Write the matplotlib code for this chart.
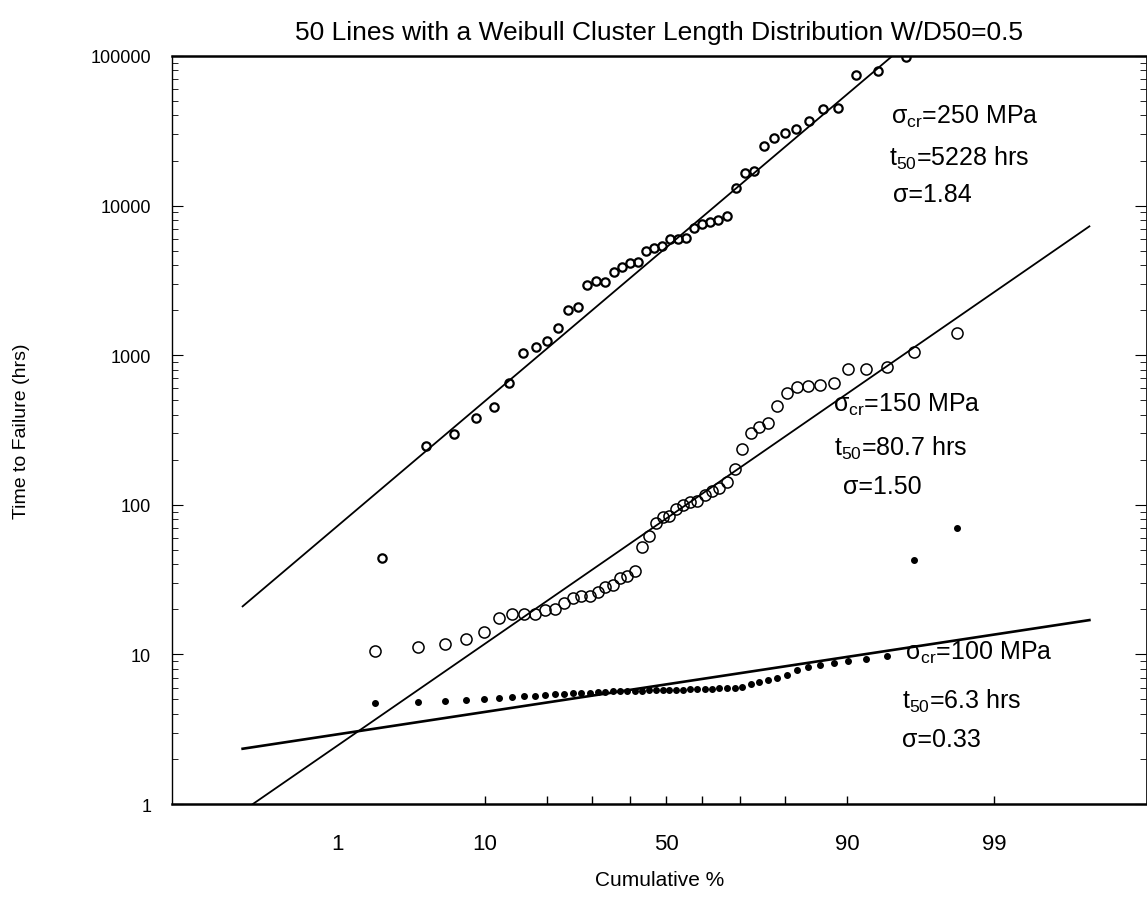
import matplotlib
matplotlib.use('Agg')
import matplotlib.pyplot as plt
import numpy as np
from statistics import NormalDist

plt.rcParams['font.family'] = ['Liberation Sans', 'DejaVu Sans']
plt.rcParams['mathtext.fontset'] = 'custom'
plt.rcParams['mathtext.rm'] = 'Liberation Sans'
plt.rcParams['mathtext.default'] = 'regular'

# failure times (hrs), sorted, for each critical stress
t_250 = [44, 247, 297, 380, 451, 652, 1035, 1135, 1244, 1520, 2005, 2100,
         2946, 3131, 3100, 3597, 3890, 4130, 4200, 4975, 5210, 5370, 5980,
         5980, 6050, 7090, 7530, 7770, 8010, 8520, 13100, 16500, 17000,
         25000, 28300, 30600, 32500, 36800, 44300, 44900, 74600, 79400, 98500]
n_250 = 44

t_150 = [10.5, 11.2, 11.7, 12.7, 14.1, 17.5, 18.6, 18.6, 18.6, 19.8, 20.1,
         22.1, 23.8, 24.5, 24.5, 26.1, 28.2, 29.1, 32.4, 33.4, 36.1, 52, 62,
         75, 83, 84, 94, 100, 104, 106, 116, 124, 130, 142, 173, 236, 302,
         331, 352, 457, 558, 612, 622, 632, 652, 809, 809, 834, 1050, 1400]
n_150 = 50

t_100 = [4.7, 4.8, 4.9, 4.95, 5.05, 5.15, 5.2, 5.25, 5.3, 5.35, 5.4, 5.45,
         5.5, 5.55, 5.55, 5.6, 5.6, 5.65, 5.65, 5.7, 5.7, 5.7, 5.75, 5.75,
         5.75, 5.8, 5.8, 5.8, 5.85, 5.85, 5.9, 5.9, 5.95, 6.0, 6.0, 6.1,
         6.3, 6.5, 6.7, 7.0, 7.3, 7.9, 8.2, 8.5, 8.8, 9.0, 9.3, 9.7, 43, 70]
n_100 = 50

# lognormal fits: (t50, sigma)
fit_250 = (5228, 1.84)
fit_150 = (80.7, 1.50)
fit_100 = (6.3, 0.33)

tick_pct = [10, 20, 30, 40, 50, 60, 70, 80, 90, 99]
label_pct = [1, 10, 50, 90, 99]

nd = NormalDist()


def probit(p):
    p = np.clip(np.asarray(p, float) / 100.0, 1e-12, 1 - 1e-12)
    return np.vectorize(nd.inv_cdf)(p)


def inv_probit(z):
    return np.vectorize(nd.cdf)(np.asarray(z, float)) * 100.0


def positions(n_obs, n):
    i = np.arange(1, n_obs + 1)
    return 100.0 * i / (n + 1)


def fit_line(t50, s):
    z = np.linspace(-3, 3, 200)
    return inv_probit(z), t50 * np.exp(s * z)


fig = plt.figure(figsize=(11.47, 9.04), dpi=100)
ax = fig.add_axes([0.150, 0.1095, 0.849, 0.8275])
ax.set_xscale('function', functions=(probit, inv_probit))
ax.set_yscale('log')

for fit in (fit_250, fit_150, fit_100):
    px, py = fit_line(*fit)
    ax.plot(px, py, color='black', lw=1.3 if fit is not fit_100 else 1.9)

ax.plot(positions(len(t_250), n_250), t_250, 'o', ms=6, mfc='none',
        mec='black', mew=1.6)
ax.plot(positions(len(t_150), n_150), t_150, 'o', ms=8, mfc='none',
        mec='black', mew=1.1)
ax.plot(positions(len(t_100), n_100), t_100, 'o', ms=4, color='black')

ax.set_xlim(float(inv_probit(-3.5)), float(inv_probit(3.4)))
ax.set_ylim(1, 100000)

# keep the inner tick marks at 10/50/90/99 alongside the labels
ax.xaxis.remove_overlapping_locs = False
ax.set_xticks(tick_pct, minor=True)
ax.set_xticks(label_pct, [str(p) for p in label_pct])
ax.tick_params(axis='x', which='minor', direction='in', length=6, width=1,
               labelbottom=False)
ax.tick_params(axis='x', which='major', direction='in', length=0, pad=21,
               labelsize=16)

ax.set_yticks([1, 10, 100, 1000, 10000, 100000],
              ['1', '10', '100', '1000', '10000', '100000'])
ax.tick_params(axis='y', which='both', direction='in', left=True, right=True,
               labelsize=13, pad=15)
ax.tick_params(axis='y', which='major', length=8)
ax.tick_params(axis='y', which='minor', length=4)

ax.spines['top'].set_linewidth(1.8)
ax.spines['bottom'].set_linewidth(1.8)
ax.spines['left'].set_linewidth(1.0)
ax.spines['right'].set_linewidth(0.6)

ax.set_title('50 Lines with a Weibull Cluster Length Distribution W/D50=0.5',
             fontsize=19, pad=12)
ax.set_xlabel('Cumulative %', fontsize=15)
ax.set_ylabel('Time to Failure (hrs)', fontsize=14)
ax.xaxis.set_label_coords(0.501, -0.088)
ax.yaxis.set_label_coords(-0.146, 0.5)

notes = [
    (0.738, 0.920, r'σ$_{cr}$=250 MPa'),
    (0.736, 0.865, r't$_{50}$=5228 hrs'),
    (0.740, 0.816, r'σ=1.84'),
    (0.679, 0.535, r'σ$_{cr}$=150 MPa'),
    (0.680, 0.477, r't$_{50}$=80.7 hrs'),
    (0.689, 0.425, r'σ=1.50'),
    (0.753, 0.203, r'σ$_{cr}$=100 MPa'),
    (0.750, 0.138, r't$_{50}$=6.3 hrs'),
    (0.750, 0.087, r'σ=0.33'),
]
for x, y, s in notes:
    ax.text(x, y, s, transform=ax.transAxes, fontsize=18, ha='left',
            va='center')

fig.savefig('out.png', dpi=100)
